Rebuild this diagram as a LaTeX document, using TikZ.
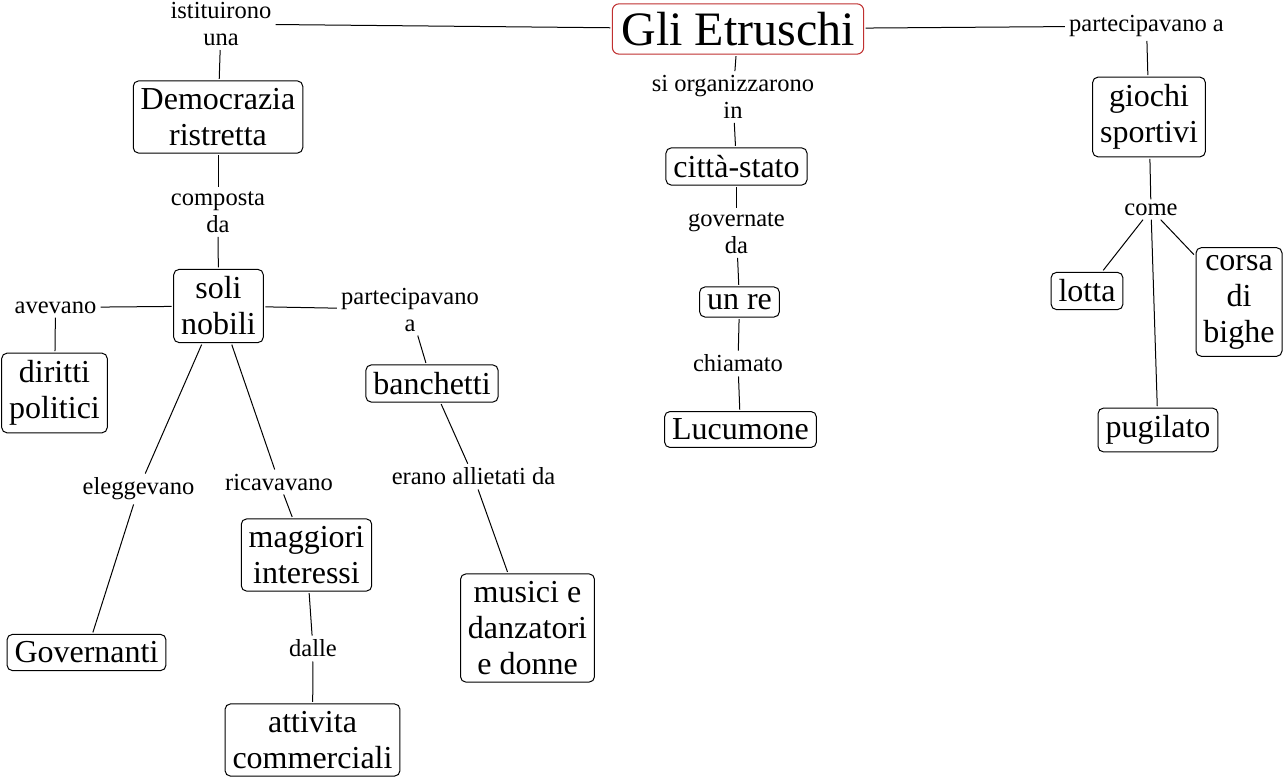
\documentclass[tikz,border=0pt]{standalone}
\usepackage{fontspec}
\setmainfont{Liberation Serif}
\definecolor{etred}{RGB}{192,48,48}
\begin{document}
\begin{tikzpicture}[x=0.75pt,y=-0.75pt,
  box/.style={draw=black, line width=0.75pt, rounded corners=4pt, fill=white,
    font=\fontsize{24}{27}\selectfont, align=center, inner xsep=5.6pt, inner ysep=5.5pt, outer sep=1.5pt},
  titlebox/.style={draw=etred, line width=0.8pt, rounded corners=5pt, fill=white,
    font=\fontsize{36}{40}\selectfont, inner xsep=6.75pt, inner ysep=6.2pt, outer sep=1.5pt},
  lbl/.style={font=\fontsize{18.4}{20.25}\selectfont, align=center, inner sep=3pt},
  conn/.style={draw=black, line width=0.75pt}]
\useasboundingbox (0,0) rectangle (1285,780);

% concept boxes
\node[titlebox] (E) at (738,29) {Gli Etruschi};
\node[box] (D) at (218,117) {Democrazia\\ristretta};
\node[box] (S) at (218.5,306) {soli\\nobili};
\node[box] (DP) at (54.5,393) {diritti\\politici};
\node[box] (B) at (432,383.5) {banchetti};
\node[box] (M) at (306.5,555) {maggiori\\interessi};
\node[box] (G) at (86.5,652.5) {Governanti};
\node[box] (A) at (312.5,740) {attivita\\commerciali};
\node[box] (MU) at (527.5,628) {musici e\\danzatori\\e donne};
\node[box] (C) at (736.5,166.5) {città-stato};
\node[box] (R) at (739.5,302) {un re};
\node[box] (L) at (740.5,429.5) {Lucumone};
\node[box] (GS) at (1149,117) {giochi\\sportivi};
\node[box] (LO) at (1087,291) {lotta};
\node[box] (CB) at (1239,302) {corsa\\di\\bighe};
\node[box] (P) at (1158,430) {pugilato};

% linking phrases
\node[lbl] (l1) at (221,24) {istituirono\\una};
\node[lbl] (l2) at (1146.5,26) {partecipavano a};
\node[lbl] (l3) at (733,97) {si organizzarono\\in};
\node[lbl] (l4) at (218,212) {composta\\da};
\node[lbl] (l5) at (736.5,233) {governate\\da};
\node[lbl] (l6) at (1151,209.5) {come};
\node[lbl] (l7) at (55.5,307.5) {avevano};
\node[lbl] (l8) at (410,309.5) {partecipavano\\a};
\node[lbl] (l9) at (738,363.6) {chiamato};
\node[lbl] (l10) at (138.5,489) {eleggevano};
\node[lbl] (l11) at (279,482) {ricavavano};
\node[lbl] (l12) at (473.5,476.6) {erano allietati da};
\node[lbl] (l13) at (313,648.6) {dalle};

% connectors
\draw[conn] (E) -- (l1);
\draw[conn] (l1) -- (D);
\draw[conn] (D) -- (l4);
\draw[conn] (l4) -- (S);
\draw[conn] (S) -- (l7);
\draw[conn] (l7) -- (DP);
\draw[conn] (S) -- (l8);
\draw[conn] (l8) -- (B);
\draw[conn] (S) -- (l10);
\draw[conn] (l10) -- (G);
\draw[conn] (S) -- (l11);
\draw[conn] (l11) -- (M);
\draw[conn] (M) -- (l13);
\draw[conn] (l13) -- (A);
\draw[conn] (B) -- (l12);
\draw[conn] (l12) -- (MU);
\draw[conn] (E) -- (l3);
\draw[conn] (l3) -- (C);
\draw[conn] (C) -- (l5);
\draw[conn] (l5) -- (R);
\draw[conn] (R) -- (l9);
\draw[conn] (l9) -- (L);
\draw[conn] (E) -- (l2);
\draw[conn] (l2) -- (GS);
\draw[conn] (GS) -- (l6);
\draw[conn] (l6) -- (LO);
\draw[conn] (l6) -- (CB);
\draw[conn] (l6) -- (P);
\end{tikzpicture}
\end{document}
